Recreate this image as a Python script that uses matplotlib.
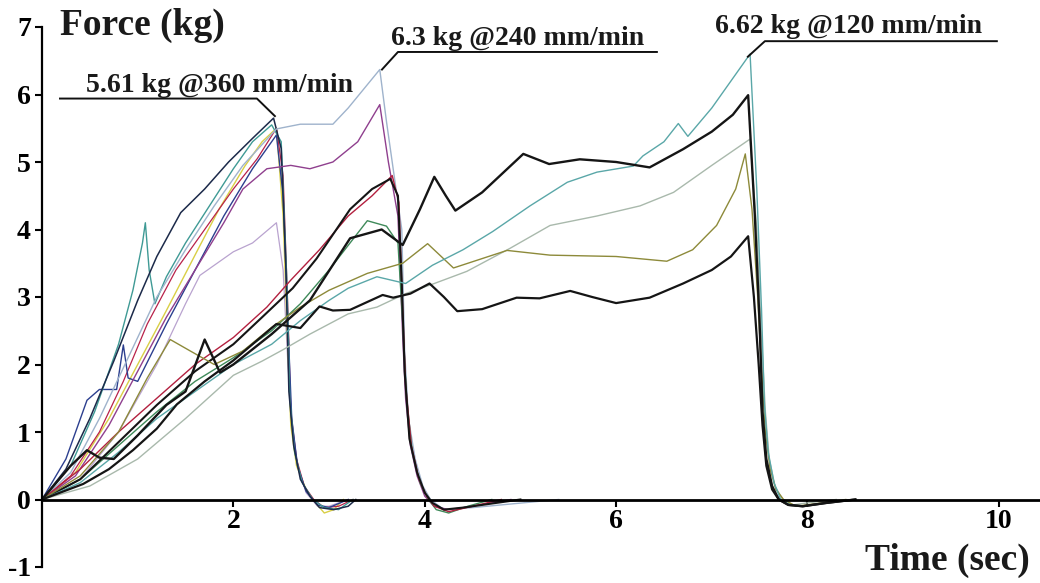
import matplotlib
matplotlib.use('Agg')
import matplotlib.pyplot as plt

# --- data (time in sec, force in kg) ---
# group falling at ~2.5 s (360 mm/min)
a_navy_t = [0, 0.25, 0.5, 0.75, 1.0, 1.2, 1.45, 1.7, 1.95, 2.2, 2.42, 2.5, 2.55, 2.58, 2.63, 2.7, 2.8, 2.9, 3.05, 3.2, 3.28]
a_navy_f = [0, 0.45, 1.2, 2.05, 2.95, 3.6, 4.25, 4.6, 5.0, 5.35, 5.65, 5.2, 3.4, 1.6, 0.8, 0.3, 0.05, -0.12, -0.15, -0.1, 0]
a_teal_t = [0, 0.3, 0.55, 0.8, 0.95, 1.05, 1.08, 1.12, 1.18, 1.3, 1.5, 1.75, 2.0, 2.2, 2.4, 2.5, 2.56, 2.59, 2.64, 2.72, 2.83, 2.95, 3.1, 3.25]
a_teal_f = [0, 0.5, 1.3, 2.3, 3.1, 3.8, 4.1, 3.4, 2.9, 3.3, 3.8, 4.35, 4.9, 5.3, 5.55, 5.3, 3.2, 1.5, 0.7, 0.25, 0.0, -0.12, -0.15, 0]
a_red_t = [0, 0.3, 0.6, 0.85, 1.1, 1.4, 1.7, 2.0, 2.25, 2.45, 2.52, 2.57, 2.6, 2.66, 2.74, 2.84, 2.95, 3.1, 3.25]
a_red_f = [0, 0.35, 1.0, 1.75, 2.6, 3.4, 4.0, 4.6, 5.05, 5.5, 4.8, 2.8, 1.3, 0.6, 0.2, 0.0, -0.12, -0.1, 0]
a_yellow_t = [0, 0.35, 0.7, 1.0, 1.3, 1.65, 1.85, 2.12, 2.3, 2.45, 2.52, 2.57, 2.6, 2.66, 2.76, 2.86, 2.95, 3.05, 3.15]
a_yellow_f = [0, 0.4, 1.2, 2.0, 2.8, 3.76, 4.3, 4.94, 5.3, 5.5, 4.2, 2.2, 1.1, 0.5, 0.15, -0.05, -0.2, -0.15, 0]
a_lilac_t = [0, 0.4, 0.8, 1.2, 1.5, 1.65, 2.0, 2.2, 2.45, 2.52, 2.57, 2.62, 2.68, 2.76, 2.88, 3.0, 3.2]
a_lilac_f = [0, 0.3, 1.0, 2.0, 2.9, 3.32, 3.67, 3.8, 4.1, 3.4, 2.0, 1.0, 0.45, 0.1, -0.1, -0.1, 0]
a_blue_t = [0, 0.25, 0.47, 0.6, 0.78, 0.85, 0.9, 1.0, 1.3, 1.6, 1.9, 2.2, 2.45, 2.52, 2.57, 2.61, 2.67, 2.76, 2.88, 3.0, 3.2]
a_blue_f = [0, 0.6, 1.47, 1.63, 1.63, 2.29, 1.8, 1.75, 2.6, 3.4, 4.2, 4.9, 5.4, 4.5, 2.6, 1.2, 0.5, 0.12, -0.08, -0.12, 0]

# group falling at ~3.7 s (240 mm/min)
b_light_t = [0, 0.3, 0.6, 0.9, 1.2, 1.5, 1.8, 2.1, 2.45, 2.7, 3.04, 3.2, 3.53, 3.6, 3.68, 3.76, 3.79, 3.83, 3.9, 3.98, 4.06, 4.2, 4.5, 4.8, 5.1, 5.4]
b_light_f = [0, 0.4, 1.2, 2.1, 3.0, 3.7, 4.35, 4.95, 5.49, 5.56, 5.56, 5.8, 6.37, 5.6, 4.8, 4.0, 2.2, 1.2, 0.6, 0.2, 0.0, -0.15, -0.12, -0.08, -0.04, 0]
b_purple_t = [0, 0.35, 0.7, 1.0, 1.3, 1.6, 1.9, 2.1, 2.35, 2.6, 2.8, 3.04, 3.3, 3.53, 3.62, 3.72, 3.77, 3.8, 3.85, 3.92, 4.0, 4.1, 4.25, 4.5, 4.9]
b_purple_f = [0, 0.35, 1.1, 1.9, 2.7, 3.4, 4.1, 4.6, 4.9, 4.95, 4.9, 5.0, 5.3, 5.85, 5.0, 4.2, 2.4, 1.5, 0.8, 0.35, 0.05, -0.1, -0.15, -0.1, 0]
b_black_t = [0, 0.4, 0.8, 1.2, 1.6, 2.0, 2.3, 2.62, 2.87, 3.22, 3.45, 3.64, 3.72, 3.76, 3.79, 3.84, 3.92, 4.0, 4.08, 4.2, 4.4, 4.7, 5.0]
b_black_f = [0, 0.3, 0.85, 1.4, 1.9, 2.3, 2.7, 3.13, 3.57, 4.3, 4.6, 4.75, 4.5, 3.2, 1.9, 0.9, 0.4, 0.1, -0.05, -0.15, -0.12, -0.06, 0]
b_red_t = [0, 0.4, 0.8, 1.2, 1.6, 2.0, 2.35, 2.6, 2.9, 3.2, 3.45, 3.66, 3.73, 3.77, 3.8, 3.86, 3.94, 4.02, 4.1, 4.25, 4.5, 4.8]
b_red_f = [0, 0.45, 1.0, 1.5, 2.0, 2.4, 2.85, 3.25, 3.7, 4.2, 4.5, 4.8, 4.4, 2.8, 1.7, 0.8, 0.3, 0.05, -0.1, -0.18, -0.1, 0]
b_green_t = [0, 0.4, 0.8, 1.2, 1.6, 2.0, 2.4, 2.7, 3.0, 3.4, 3.6, 3.72, 3.77, 3.81, 3.87, 3.95, 4.04, 4.12, 4.25, 4.45, 4.7]
b_green_f = [0, 0.3, 0.8, 1.3, 1.75, 2.1, 2.5, 2.9, 3.4, 4.13, 4.05, 3.8, 2.6, 1.5, 0.7, 0.25, 0.0, -0.15, -0.2, -0.1, 0]

# group falling at ~7.5 s (120 mm/min)
c_teal_t = [0, 0.4, 0.8, 1.2, 1.6, 2.0, 2.4, 2.7, 3.0, 3.2, 3.5, 3.8, 4.08, 4.4, 4.71, 5.1, 5.49, 5.8, 6.18, 6.28, 6.5, 6.65, 6.75, 7.0, 7.2, 7.4, 7.47, 7.52, 7.55, 7.59, 7.65, 7.72, 7.82, 7.95, 8.2, 8.5]
c_teal_f = [0, 0.25, 0.7, 1.2, 1.6, 2.0, 2.3, 2.65, 2.95, 3.13, 3.3, 3.2, 3.47, 3.7, 3.97, 4.35, 4.7, 4.85, 4.94, 5.09, 5.3, 5.57, 5.38, 5.8, 6.2, 6.6, 4.6, 2.8, 1.4, 0.7, 0.25, 0.0, -0.08, -0.1, -0.05, 0]
c_black_t = [0, 0.3, 0.47, 0.6, 0.75, 1.0, 1.3, 1.5, 1.7, 1.86, 2.0, 2.4, 2.8, 3.22, 3.55, 3.77, 3.95, 4.1, 4.22, 4.32, 4.6, 5.03, 5.3, 5.62, 6.0, 6.35, 6.7, 7.0, 7.22, 7.38, 7.45, 7.5, 7.53, 7.57, 7.63, 7.7, 7.8, 7.95, 8.2, 8.5]
c_black_f = [0, 0.5, 0.73, 0.62, 0.6, 0.95, 1.4, 1.6, 2.37, 1.88, 2.0, 2.45, 2.95, 3.87, 4.0, 3.77, 4.3, 4.78, 4.5, 4.28, 4.55, 5.12, 4.97, 5.04, 5.0, 4.92, 5.19, 5.45, 5.7, 5.99, 4.2, 2.6, 1.3, 0.6, 0.2, 0.0, -0.08, -0.1, -0.05, 0]
c_light_t = [0, 0.5, 1.0, 1.5, 2.0, 2.3, 2.52, 2.8, 3.2, 3.5, 3.8, 4.1, 4.44, 4.89, 5.31, 5.8, 6.25, 6.6, 7.0, 7.4, 7.47, 7.52, 7.56, 7.6, 7.66, 7.74, 7.85, 8.0, 8.3]
c_light_f = [0, 0.2, 0.6, 1.2, 1.84, 2.05, 2.22, 2.45, 2.75, 2.85, 3.05, 3.2, 3.38, 3.72, 4.06, 4.2, 4.35, 4.55, 4.95, 5.34, 4.0, 2.4, 1.3, 0.6, 0.2, 0.0, -0.08, -0.05, 0]
c_olive_t = [0, 0.4, 0.8, 1.1, 1.34, 1.55, 1.8, 2.1, 2.4, 2.7, 3.0, 3.4, 3.77, 4.03, 4.3, 4.86, 5.31, 6.0, 6.53, 6.8, 7.05, 7.25, 7.35, 7.42, 7.48, 7.52, 7.56, 7.61, 7.67, 7.75, 7.88, 8.1, 8.4]
c_olive_f = [0, 0.35, 1.0, 1.8, 2.37, 2.2, 2.0, 2.2, 2.55, 2.85, 3.1, 3.35, 3.5, 3.79, 3.43, 3.69, 3.62, 3.6, 3.53, 3.7, 4.06, 4.6, 5.12, 4.3, 3.0, 1.9, 1.0, 0.45, 0.15, 0.0, -0.1, -0.06, 0]
c_black2_t = [0, 0.43, 0.7, 0.95, 1.2, 1.41, 1.7, 2.0, 2.2, 2.45, 2.7, 2.9, 3.04, 3.22, 3.56, 3.67, 3.85, 4.05, 4.2, 4.34, 4.6, 4.96, 5.2, 5.52, 5.75, 6.0, 6.35, 6.7, 7.0, 7.2, 7.38, 7.44, 7.49, 7.53, 7.57, 7.63, 7.7, 7.8, 7.95, 8.2, 8.5]
c_black2_f = [0, 0.23, 0.45, 0.73, 1.05, 1.41, 1.75, 2.06, 2.3, 2.6, 2.54, 2.86, 2.8, 2.81, 3.03, 2.99, 3.05, 3.2, 3.0, 2.79, 2.82, 2.99, 2.98, 3.09, 3.0, 2.91, 2.99, 3.2, 3.4, 3.6, 3.9, 3.0, 2.0, 1.1, 0.5, 0.15, 0.0, -0.08, -0.1, -0.05, 0]

# peak annotations: label, peak point, elbow, end of underline
ann_labels = ['5.61 kg @360 mm/min', '6.3 kg @240 mm/min', '6.62 kg @120 mm/min']
ann_peak = [(2.434, 5.68), (3.553, 6.37), (7.377, 6.56)]
ann_elbow = [(2.246, 5.94), (3.720, 6.63), (7.555, 6.79)]
ann_end = [(0.188, 5.94), (6.426, 6.63), (9.979, 6.79)]

x_ticks = [2, 4, 6, 8, 10]
y_ticks = [-1, 0, 1, 2, 3, 4, 5, 6, 7]

SERIF = 'Liberation Serif'

fig = plt.figure(figsize=(10.4, 5.83), dpi=100)
ax = fig.add_axes([42 / 1040, 16 / 583, 1 - 42 / 1040, 540 / 583])

series = [
    (a_lilac_t, a_lilac_f, '#b9a3cf', 0.9),
    (a_yellow_t, a_yellow_f, '#d9cf45', 1.0),
    (a_red_t, a_red_f, '#b8224a', 0.9),
    (a_blue_t, a_blue_f, '#2c3f8f', 1.0),
    (a_teal_t, a_teal_f, '#3f9a95', 1.0),
    (a_navy_t, a_navy_f, '#1c2a4a', 1.1),
    (b_light_t, b_light_f, '#9fb3cc', 1.0),
    (b_purple_t, b_purple_f, '#8f3f8e', 1.0),
    (b_green_t, b_green_f, '#3f8a5a', 1.0),
    (b_red_t, b_red_f, '#b3203f', 1.0),
    (b_black_t, b_black_f, '#151515', 1.5),
    (c_light_t, c_light_f, '#a9b9ac', 1.0),
    (c_olive_t, c_olive_f, '#8d8a3a', 1.0),
    (c_teal_t, c_teal_f, '#5aa7a8', 1.0),
    (c_black2_t, c_black2_f, '#151515', 1.6),
    (c_black_t, c_black_f, '#151515', 1.7),
]
for t, f, col, lw in series:
    ax.plot(t, f, color=col, linewidth=lw, solid_joinstyle='round')

for lab, pk, el, en in zip(ann_labels, ann_peak, ann_elbow, ann_end):
    ax.plot([pk[0], el[0], en[0]], [pk[1], el[1], en[1]], color='#111111', linewidth=1.4)
ax.text(1.86, 6.04, ann_labels[0], ha='center', va='baseline', fontsize=20,
        fontweight='bold', family=SERIF, color='#1a1a1a')
ax.text(4.974, 6.735, ann_labels[1], ha='center', va='baseline', fontsize=20,
        fontweight='bold', family=SERIF, color='#1a1a1a')
ax.text(8.433, 6.91, ann_labels[2], ha='center', va='baseline', fontsize=20,
        fontweight='bold', family=SERIF, color='#1a1a1a')

ax.set_xlim(0, 10.43)
ax.set_ylim(-1, 7)
ax.spines['top'].set_visible(False)
ax.spines['right'].set_visible(False)
ax.spines['bottom'].set_position(('data', 0))
ax.spines['bottom'].set_linewidth(2)
ax.spines['left'].set_linewidth(1.6)
ax.set_xticks(x_ticks)
ax.set_yticks(y_ticks)
ax.set_xticklabels([str(v) for v in x_ticks])
ax.set_yticklabels([str(v) for v in y_ticks])
ax.tick_params(axis='both', direction='out', length=5, width=1.5, labelsize=20)
ax.tick_params(axis='y', pad=3)
ax.tick_params(axis='x', pad=2)
for lbl in ax.get_xticklabels() + ax.get_yticklabels():
    lbl.set_fontfamily(SERIF)
    lbl.set_fontweight('bold')

fig.text(60 / 1040, 1 - 25 / 583, 'Force (kg)', ha='left', va='center', fontsize=27,
         fontweight='bold', family=SERIF, color='#1a1a1a')
fig.text(1030 / 1040, 1 - 560 / 583, 'Time (sec)', ha='right', va='center', fontsize=27,
         fontweight='bold', family=SERIF, color='#1a1a1a')

fig.savefig('out.png', dpi=100)
